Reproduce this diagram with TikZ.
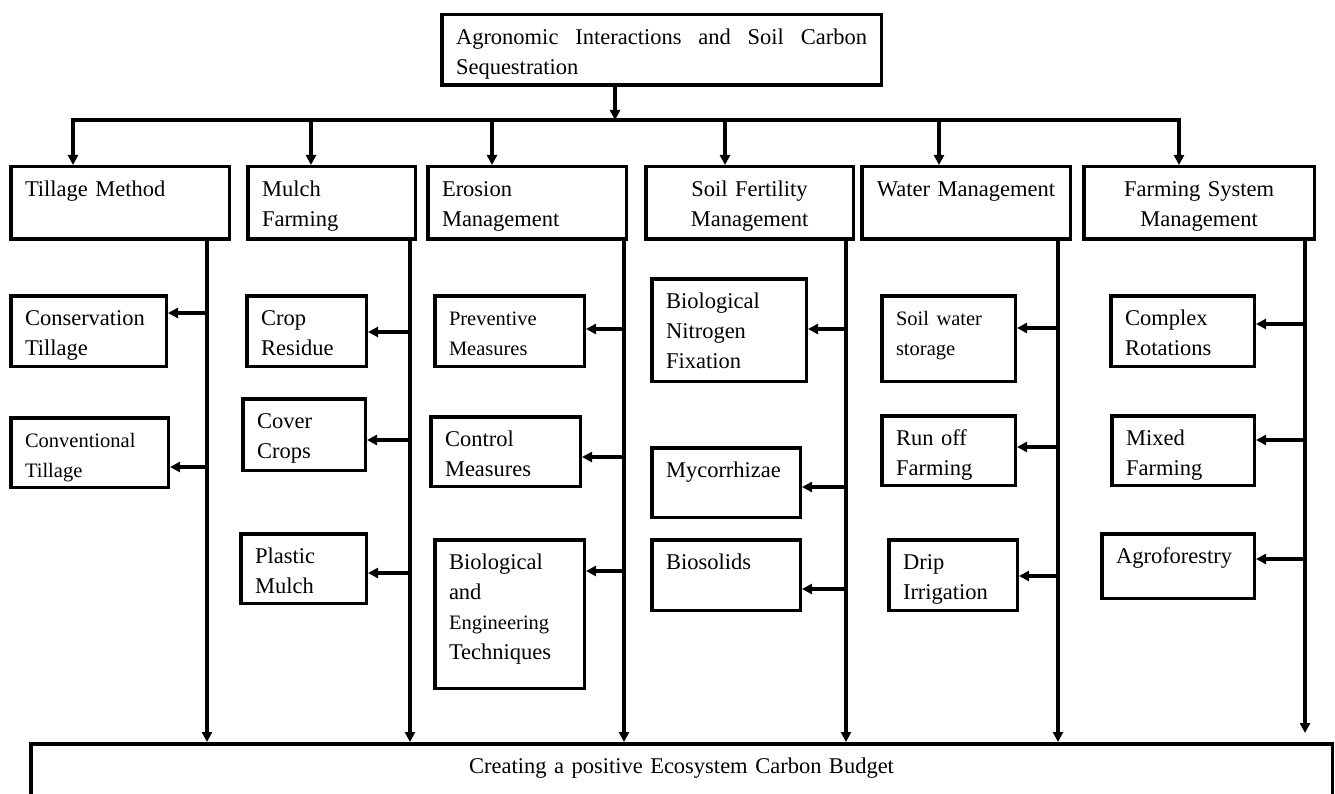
\documentclass[tikz,border=0pt]{standalone}
\usepackage{fontspec}
\setmainfont{Liberation Serif}
\usetikzlibrary{arrows.meta}
\newcommand{\ascsmall}{\fontsize{20.5}{28}\selectfont}
\tikzset{
 asc box/.style 2 args={draw,line width=3.5,anchor=north west,align=left,
                        inner xsep=14.25,inner ysep=11,text width={#1-32},
                        text height=19,text depth={#2-44.5},
                        font=\fontsize{22.5}{30}\selectfont},
 asc line/.style={line width=3.2,line cap=rect},
 asc link/.style={line width=3.2,-{Triangle[length=10pt,width=10pt]}}
}

\begin{document}
\begin{tikzpicture}[x=1pt,y=-1pt]
 \useasboundingbox[fill=white] (0,0) rectangle (1335,794);
 % head and base
 \node[asc box={443}{74},align=justify] (head) at (440,13)
   {\tolerance=9999 Agronomic Interactions and Soil Carbon \mbox{Sequestration}};
 \node[asc box={1305}{80},align=center] (base) at (29,742)
   {Creating a positive Ecosystem Carbon Budget};
 % practices
 \node[asc box={222}{76}] (till) at (9,165) {Tillage Method};
 \node[asc box={171}{76}] (mulch) at (246,165) {Mulch\\Farming};
 \node[asc box={202}{76}] (eros) at (426,165) {Erosion\\Management};
 \node[asc box={211}{76},align=center] (fert) at (644,165) {Soil Fertility\\Management};
 \node[asc box={212}{76},align=center] (water) at (860,165) {Water Management};
 \node[asc box={234}{76},align=center] (farm) at (1082,165) {Farming System\\Management};
 % bus
 \coordinate (hub) at (615,120);
 \coordinate (busL) at (73,120);
 \coordinate (busR) at (1179,120);
 \draw[asc link] (hub |- head.south) -- (hub);
 \draw[asc line] (busL) -- (busR);
 \foreach \col/\x in {till/73,mulch/311,eros/492,fert/725,water/939,farm/1179}{
   \coordinate (\col drop) at (\x,120);
   \draw[asc link] (\col drop) -- (\col drop |- \col.north);
 }
 % trunks
 \foreach \col/\x/\s in {till/207/0,mulch/410/0,eros/624/0,fert/846/0,
                          water/1058/0,farm/1305/9}{
   \coordinate (\col trunk) at (\x,0);
   \draw[asc link,shorten >=\s pt] (\col.south -| \col trunk) -- (\col trunk |- base.north);
 }
 % measures
 \foreach \col/\nm/\x/\y/\w/\h/\ay/\txt in {
   till/cons/9/294/159/74/313/{Conservation\\Tillage},
   till/conv/9/416/161/73/467/{\ascsmall Conventional\\Tillage},
   mulch/crop/245/294/123/74/332/{Crop\\Residue},
   mulch/cover/241/397/126/75/440/{Cover\\Crops},
   mulch/plastic/239/532/129/73/573/{Plastic\\Mulch},
   eros/prev/433/294/153/74/329/{\ascsmall Preventive\\Measures},
   eros/ctrl/429/415/153/73/457/{Control\\Measures},
   eros/bioeng/433/538/153/152/571/{Biological\\and\\{\ascsmall Engineering}\\Techniques},
   fert/bnf/650/277/158/106/329/{Biological\\Nitrogen\\Fixation},
   fert/myco/650/446/152/73/487/{Mycorrhizae},
   fert/bios/650/538/152/74/589/{Biosolids},
   water/swater/880/294/137/89/328/{\ascsmall Soil water\\storage},
   water/runoff/880/414/137/73/447/{Run off\\Farming},
   water/drip/887/538/132/74/576/{Drip\\Irrigation},
   farm/cplx/1109/294/147/74/324/{Complex\\Rotations},
   farm/mixed/1110/414/146/73/440/{Mixed\\Farming},
   farm/agro/1100/532/156/68/559/{Agroforestry}}{
   \node[asc box={\w}{\h}] (\nm) at (\x,\y) {\txt};
   \path (\col trunk) ++(0,\ay) coordinate (\nm tap);
   \draw[asc link] (\nm tap) -- (\nm tap -| \nm.east);
 }
\end{tikzpicture}
\end{document}
